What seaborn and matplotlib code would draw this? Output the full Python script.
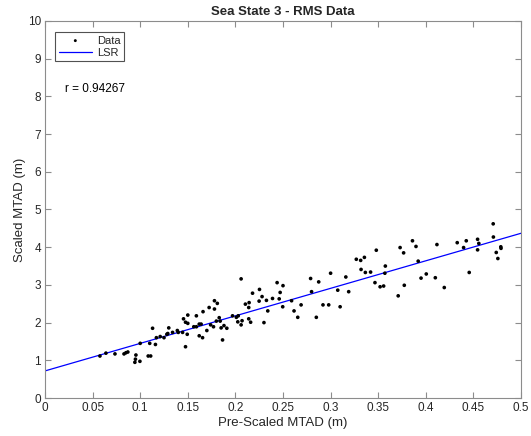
import numpy as np
import pandas as pd
import matplotlib
matplotlib.use("Agg")
import matplotlib.pyplot as plt
import seaborn as sns

pre_scaled = [
    0.0577, 0.064, 0.0735, 0.083, 0.087, 0.085,
    0.0955, 0.095, 0.0944, 0.0997, 0.100, 0.1084, 0.111, 0.110, 0.113, 0.116,
    0.117, 0.121, 0.125, 0.128, 0.129, 0.130, 0.134, 0.139, 0.140, 0.1445,
    0.1455, 0.1476, 0.1476, 0.150, 0.150, 0.1494, 0.1563, 0.159, 0.159, 0.162,
    0.162, 0.164, 0.1655, 0.166, 0.170, 0.1724, 0.174, 0.177, 0.178, 0.178,
    0.181, 0.180, 0.183, 0.184, 0.185, 0.1865, 0.188, 0.191, 0.197, 0.201,
    0.2025, 0.203, 0.206, 0.206, 0.207, 0.2105, 0.214, 0.2144, 0.214, 0.216,
    0.218, 0.2249, 0.2253, 0.228, 0.230, 0.2326, 0.234, 0.239, 0.2438, 0.246,
    0.247, 0.2497, 0.250,
    0.259, 0.2616, 0.2655, 0.269, 0.279, 0.280, 0.285, 0.2875, 0.292, 0.298,
    0.300, 0.3075, 0.310, 0.316, 0.319, 0.327, 0.3316, 0.332, 0.3355, 0.3365,
    0.342, 0.3466, 0.348, 0.352, 0.3557, 0.3575, 0.357, 0.371, 0.373, 0.3767,
    0.3774, 0.386, 0.3897, 0.392, 0.395, 0.4005,
    0.410, 0.4117, 0.4194, 0.433, 0.4397, 0.4425, 0.4456, 0.4544, 0.4557, 0.4544,
    0.4708, 0.471, 0.474, 0.4757, 0.4788, 0.479,
]
scaled = [
    1.114, 1.19, 1.17, 1.17, 1.22, 1.20,
    1.14, 1.03, 0.947, 0.973, 1.45, 1.114, 1.114, 1.45, 1.85, 1.42,
    1.60, 1.63, 1.60, 1.69, 1.71, 1.86, 1.74, 1.79, 1.74, 1.74,
    2.10, 2.01, 1.36, 2.20, 1.98, 1.69, 1.89, 1.89, 2.18, 1.65,
    1.96, 1.96, 1.60, 2.29, 1.79, 2.40, 1.94, 1.89, 2.36, 2.58,
    2.51, 2.04, 2.13, 2.04, 1.86, 1.54, 1.92, 1.85, 2.18, 2.14,
    2.02, 2.18, 3.16, 1.94, 2.05, 2.49, 2.40, 2.53, 2.10, 2.01,
    2.78, 2.57, 2.88, 2.69, 2.00, 2.59, 2.31, 2.64, 3.06, 2.63,
    2.80, 2.42, 2.98,
    2.58, 2.31, 2.14, 2.47, 3.17, 2.82, 2.14, 3.08, 2.47, 2.47,
    3.31, 2.86, 2.42, 3.21, 2.82, 3.68, 3.65, 3.41, 3.73, 3.33,
    3.34, 3.06, 3.92, 2.95, 2.97, 3.50, 3.31, 2.71, 3.99, 3.85,
    2.99, 4.17, 4.02, 3.63, 3.18, 3.29,
    3.19, 4.07, 2.93, 4.12, 3.99, 4.17, 3.33, 4.21, 4.10, 3.93,
    4.62, 4.27, 3.86, 3.70, 4.01, 3.97,
]
x_ticks = [0, 0.05, 0.1, 0.15, 0.2, 0.25, 0.3, 0.35, 0.4, 0.45, 0.5]
x_tick_labels = ["0", "0.05", "0.1", "0.15", "0.2", "0.25", "0.3", "0.35", "0.4", "0.45", "0.5"]
y_ticks = list(range(0, 11))
r_label = "r = 0.94267"

df = pd.DataFrame({"pre": pre_scaled, "scaled": scaled})
slope, intercept = np.polyfit(df["pre"], df["scaled"], 1)
line_df = pd.DataFrame({"pre": [0.0, 0.5]})
line_df["fit"] = intercept + slope * line_df["pre"]

sns.set_style("ticks")
plt.rcParams["font.family"] = ["Liberation Sans", "DejaVu Sans"]

fig = plt.figure(figsize=(5.31, 4.36), dpi=100)
ax = fig.add_axes([45 / 531, 38 / 436, 476 / 531, 377 / 436])

sns.scatterplot(data=df, x="pre", y="scaled", ax=ax, color="black", s=7,
                marker="o", edgecolor="none", linewidth=0, label="Data", zorder=3)
sns.lineplot(data=line_df, x="pre", y="fit", ax=ax, color="#0000ff", linewidth=0.9,
             label="LSR", zorder=2)

ax.set_xlim(0, 0.5)
ax.set_ylim(0, 10)
ax.set_xticks(x_ticks)
ax.set_xticklabels(x_tick_labels)
ax.set_yticks(y_ticks)
ax.tick_params(direction="in", top=True, right=True, length=4, width=0.8,
               labelsize=8.5, color="#8c8c8c", labelcolor="#262626", pad=3)
for sp in ax.spines.values():
    sp.set_visible(True)
    sp.set_color("#8c8c8c")
    sp.set_linewidth(0.8)

ax.set_xlabel("Pre-Scaled MTAD (m)", fontsize=9.5, color="#262626", labelpad=2)
ax.set_ylabel("Scaled MTAD (m)", fontsize=9.5, color="#262626", labelpad=1)
ax.set_title("Sea State 3 - RMS Data", fontsize=9.5, fontweight="bold", pad=4)

ax.text(0.021, 8.2, r_label, fontsize=8.5, va="center", ha="left", color="black")

leg = ax.legend(loc="upper left", bbox_to_anchor=(0.01, 0.985), fontsize=8,
                frameon=True, fancybox=False, edgecolor="#262626", handlelength=3.0,
                borderpad=0.3, labelspacing=0.2, handletextpad=0.5, markerscale=0.8)
leg.get_frame().set_linewidth(0.8)

fig.savefig("out.png", dpi=100, facecolor="white")
